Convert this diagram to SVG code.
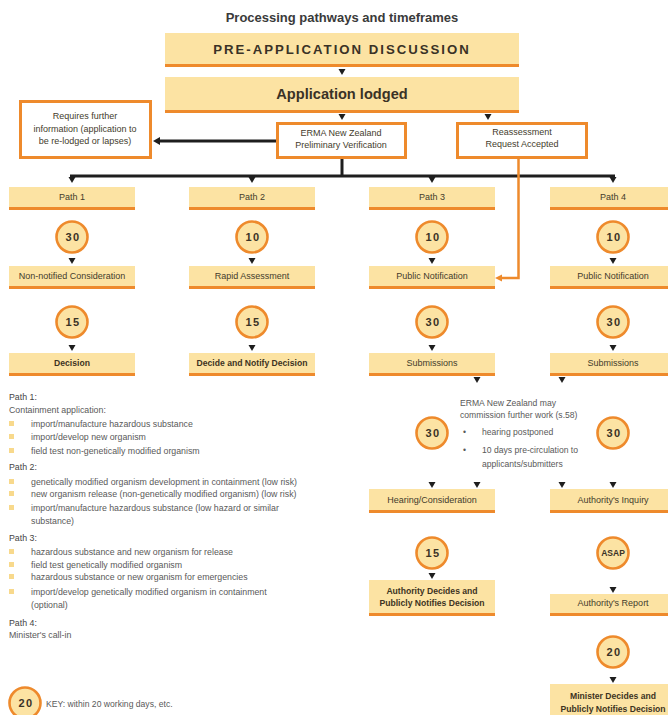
<svg xmlns="http://www.w3.org/2000/svg" xmlns:xlink="http://www.w3.org/1999/xlink" width="668" height="715" viewBox="0 0 668 715">
  <defs>
    <style>
      .box { fill: #FCE3A3; }
      .bar { fill: #EE8A2C; }
      .obox { fill: #FFFFFF; stroke: #EE8A2C; stroke-width: 3; }
      .circ { fill: #FCE3A3; stroke: #EE8A2C; stroke-width: 2.6; }
      .t { font-family: "Liberation Sans", Arial, sans-serif; font-size: 9px; fill: #443c2c; text-anchor: middle; }
      .tb { font-family: "Liberation Sans", Arial, sans-serif; font-size: 8.6px; font-weight: bold; fill: #3d3322; text-anchor: middle; }
      .num { font-family: "Liberation Sans", Arial, sans-serif; font-size: 11px; font-weight: bold; fill: #3a3226; text-anchor: middle; letter-spacing: 1.5px; }
      .asap { font-family: "Liberation Sans", Arial, sans-serif; font-size: 8.5px; font-weight: bold; fill: #3a3226; text-anchor: middle; letter-spacing: 0; }
      .list { font-family: "Liberation Sans", Arial, sans-serif; font-size: 8.8px; fill: #595959; }
      .head { font-family: "Liberation Sans", Arial, sans-serif; font-size: 8.8px; fill: #454545; }
      .sq { fill: #F8D98C; }
      .blk { stroke: #1e1e1e; stroke-width: 3; fill: none; }
      .org { stroke: #EE8A2C; stroke-width: 2.5; fill: none; }
      .tri { fill: #1e1e1e; }
    </style>
    <path id="tri" d="M-3.5,0 L3.5,0 L0,6 Z"/>
  </defs>

  <rect width="668" height="715" fill="#FFFFFF"/>

  <text x="342" y="22" font-family="Liberation Sans, Arial, sans-serif" font-size="13" font-weight="bold" fill="#3a3a3a" text-anchor="middle">Processing pathways and timeframes</text>

  <!-- connectors -->
  <g id="connectors">
    <use xlink:href="#tri" x="342" y="69" class="tri"/>
    <use xlink:href="#tri" x="342" y="114" class="tri"/>
    <use xlink:href="#tri" x="488" y="114" class="tri"/>
    <!-- to Requires further information -->
    <line x1="276" y1="141" x2="160" y2="141" class="blk"/>
    <path d="M153,141 L160,137 L160,145 Z" class="tri"/>
    <!-- fan-out to the four paths -->
    <line x1="342" y1="159" x2="342" y2="176" class="blk"/>
    <line x1="70" y1="176" x2="615" y2="176" class="blk"/>
    <use xlink:href="#tri" x="72" y="177" class="tri"/>
    <use xlink:href="#tri" x="252" y="177" class="tri"/>
    <use xlink:href="#tri" x="432" y="177" class="tri"/>
    <use xlink:href="#tri" x="613" y="177" class="tri"/>
    <!-- reassessment into public notification -->
    <polyline points="518.5,159 518.5,278 502,278" class="org"/>
    <path d="M495,278 L502,274.5 L502,281.5 Z" fill="#EE8A2C"/>
    <!-- circle to box arrows -->
    <use xlink:href="#tri" x="72" y="258" class="tri"/>
    <use xlink:href="#tri" x="252" y="258" class="tri"/>
    <use xlink:href="#tri" x="432" y="258" class="tri"/>
    <use xlink:href="#tri" x="613" y="258" class="tri"/>
    <use xlink:href="#tri" x="72" y="345" class="tri"/>
    <use xlink:href="#tri" x="252" y="345" class="tri"/>
    <use xlink:href="#tri" x="432" y="345" class="tri"/>
    <use xlink:href="#tri" x="613" y="345" class="tri"/>
    <use xlink:href="#tri" x="477" y="377" class="tri"/>
    <use xlink:href="#tri" x="562" y="377" class="tri"/>
    <use xlink:href="#tri" x="432" y="482" class="tri"/>
    <use xlink:href="#tri" x="477" y="482" class="tri"/>
    <use xlink:href="#tri" x="562" y="482" class="tri"/>
    <use xlink:href="#tri" x="613" y="482" class="tri"/>
    <use xlink:href="#tri" x="432" y="573" class="tri"/>
    <use xlink:href="#tri" x="613" y="587" class="tri"/>
    <use xlink:href="#tri" x="613" y="677" class="tri"/>
  </g>

  <!-- top of the flow -->
  <g id="pre-application">
    <rect x="165" y="33" width="354" height="34" class="box"/>
    <rect x="165" y="64" width="354" height="3" class="bar"/>
    <text x="342" y="54" font-family="Liberation Sans, Arial, sans-serif" font-size="13.2" font-weight="bold" fill="#3a3226" text-anchor="middle" letter-spacing="2">PRE-APPLICATION DISCUSSION</text>
  </g>
  <g id="application-lodged">
    <rect x="165" y="77" width="354" height="36" class="box"/>
    <rect x="165" y="110" width="354" height="3" class="bar"/>
    <text x="342" y="99" font-family="Liberation Sans, Arial, sans-serif" font-size="14.6" font-weight="bold" fill="#3a3226" text-anchor="middle">Application lodged</text>
  </g>
  <g id="requires-info">
    <rect x="20.5" y="101.5" width="130" height="56" class="obox"/>
    <text class="t" x="85" y="119">Requires further</text>
    <text class="t" x="85" y="132">information (application to</text>
    <text class="t" x="85" y="144">be re-lodged or lapses)</text>
  </g>
  <g id="erma-verification">
    <rect x="277.5" y="123.5" width="128" height="34" class="obox"/>
    <text class="t" x="341" y="136">ERMA New Zealand</text>
    <text class="t" x="341" y="148">Preliminary Verification</text>
  </g>
  <g id="reassessment">
    <rect x="457.5" y="123.5" width="129" height="34" class="obox"/>
    <text class="t" x="522" y="135">Reassessment</text>
    <text class="t" x="522" y="147">Request Accepted</text>
  </g>

  <!-- path headers -->
  <g id="path1">
    <rect x="9" y="187" width="126" height="23" class="box"/>
    <rect x="9" y="207" width="126" height="3" class="bar"/>
    <text class="t" x="72" y="200">Path 1</text>
  </g>
  <g id="path2">
    <rect x="189" y="187" width="126" height="23" class="box"/>
    <rect x="189" y="207" width="126" height="3" class="bar"/>
    <text class="t" x="252" y="200">Path 2</text>
  </g>
  <g id="path3">
    <rect x="369" y="187" width="126" height="23" class="box"/>
    <rect x="369" y="207" width="126" height="3" class="bar"/>
    <text class="t" x="432" y="200">Path 3</text>
  </g>
  <g id="path4">
    <rect x="550" y="187" width="126" height="23" class="box"/>
    <rect x="550" y="207" width="126" height="3" class="bar"/>
    <text class="t" x="613" y="200">Path 4</text>
  </g>

  <!-- first timeframes -->
  <g id="c1a"><circle cx="72" cy="237" r="15.5" class="circ"/><text class="num" x="73" y="241">30</text></g>
  <g id="c2a"><circle cx="252" cy="237" r="15.5" class="circ"/><text class="num" x="253" y="241">10</text></g>
  <g id="c3a"><circle cx="432" cy="237" r="15.5" class="circ"/><text class="num" x="433" y="241">10</text></g>
  <g id="c4a"><circle cx="613" cy="237" r="15.5" class="circ"/><text class="num" x="614" y="241">10</text></g>

  <g id="non-notified">
    <rect x="9" y="266" width="126" height="23" class="box"/>
    <rect x="9" y="286" width="126" height="3" class="bar"/>
    <text class="t" x="72" y="279">Non-notified Consideration</text>
  </g>
  <g id="rapid-assessment">
    <rect x="189" y="266" width="126" height="23" class="box"/>
    <rect x="189" y="286" width="126" height="3" class="bar"/>
    <text class="t" x="252" y="279">Rapid Assessment</text>
  </g>
  <g id="public-notification-3">
    <rect x="369" y="266" width="126" height="23" class="box"/>
    <rect x="369" y="286" width="126" height="3" class="bar"/>
    <text class="t" x="432" y="279">Public Notification</text>
  </g>
  <g id="public-notification-4">
    <rect x="550" y="266" width="126" height="23" class="box"/>
    <rect x="550" y="286" width="126" height="3" class="bar"/>
    <text class="t" x="613" y="279">Public Notification</text>
  </g>

  <!-- second timeframes -->
  <g id="c1b"><circle cx="72" cy="322" r="15.5" class="circ"/><text class="num" x="73" y="326">15</text></g>
  <g id="c2b"><circle cx="252" cy="322" r="15.5" class="circ"/><text class="num" x="253" y="326">15</text></g>
  <g id="c3b"><circle cx="432" cy="322" r="15.5" class="circ"/><text class="num" x="433" y="326">30</text></g>
  <g id="c4b"><circle cx="613" cy="322" r="15.5" class="circ"/><text class="num" x="614" y="326">30</text></g>

  <g id="decision">
    <rect x="9" y="353" width="126" height="23" class="box"/>
    <rect x="9" y="373" width="126" height="3" class="bar"/>
    <text class="tb" x="72" y="366">Decision</text>
  </g>
  <g id="decide-notify">
    <rect x="189" y="353" width="126" height="23" class="box"/>
    <rect x="189" y="373" width="126" height="3" class="bar"/>
    <text class="tb" x="252" y="366">Decide and Notify Decision</text>
  </g>
  <g id="submissions-3">
    <rect x="369" y="353" width="126" height="23" class="box"/>
    <rect x="369" y="373" width="126" height="3" class="bar"/>
    <text class="t" x="432" y="366">Submissions</text>
  </g>
  <g id="submissions-4">
    <rect x="550" y="353" width="126" height="23" class="box"/>
    <rect x="550" y="373" width="126" height="3" class="bar"/>
    <text class="t" x="613" y="366">Submissions</text>
  </g>

  <!-- further work note -->
  <g id="further-work-note" font-family="Liberation Sans, Arial, sans-serif" font-size="8.6" fill="#595959">
    <text x="460" y="406">ERMA New Zealand may</text>
    <text x="460" y="418">commission further work (s.58)</text>
    <text x="463" y="435">•</text>
    <text x="482" y="435">hearing postponed</text>
    <text x="463" y="453">•</text>
    <text x="482" y="453">10 days pre-circulation to</text>
    <text x="482" y="467">applicants/submitters</text>
  </g>

  <g id="c3c"><circle cx="432" cy="433" r="15.5" class="circ"/><text class="num" x="433" y="437">30</text></g>
  <g id="c4c"><circle cx="613" cy="433" r="15.5" class="circ"/><text class="num" x="614" y="437">30</text></g>

  <g id="hearing">
    <rect x="369" y="489" width="126" height="24" class="box"/>
    <rect x="369" y="510" width="126" height="3" class="bar"/>
    <text class="t" x="432" y="503">Hearing/Consideration</text>
  </g>
  <g id="inquiry">
    <rect x="550" y="489" width="126" height="24" class="box"/>
    <rect x="550" y="510" width="126" height="3" class="bar"/>
    <text class="t" x="613" y="503">Authority's Inquiry</text>
  </g>

  <g id="c3d"><circle cx="432" cy="553" r="15.5" class="circ"/><text class="num" x="433" y="557">15</text></g>
  <g id="c4d"><circle cx="613" cy="553" r="15.5" class="circ"/><text class="asap" x="613" y="556">ASAP</text></g>

  <g id="authority-decides">
    <rect x="369" y="580" width="126" height="36" class="box"/>
    <rect x="369" y="613" width="126" height="3" class="bar"/>
    <text class="tb" x="432" y="594">Authority Decides and</text>
    <text class="tb" x="432" y="606">Publicly Notifies Decision</text>
  </g>
  <g id="authority-report">
    <rect x="550" y="594" width="126" height="22" class="box"/>
    <rect x="550" y="613" width="126" height="3" class="bar"/>
    <text class="t" x="613" y="606">Authority's Report</text>
  </g>

  <g id="c4e"><circle cx="613" cy="652" r="15.5" class="circ"/><text class="num" x="614" y="656">20</text></g>

  <g id="minister-decides">
    <rect x="550" y="684" width="126" height="36" class="box"/>
    <text class="tb" x="613" y="699">Minister Decides and</text>
    <text class="tb" x="613" y="712">Publicly Notifies Decision</text>
  </g>

  <!-- path descriptions -->
  <g id="path-list">
    <text class="head" x="9" y="400">Path 1:</text>
    <text class="list" x="9" y="413">Containment application:</text>
    <rect class="sq" x="9" y="421" width="5" height="5"/>
    <text class="list" x="31" y="427">import/manufacture hazardous substance</text>
    <rect class="sq" x="9" y="434" width="5" height="5"/>
    <text class="list" x="31" y="440">import/develop new organism</text>
    <rect class="sq" x="9" y="448" width="5" height="5"/>
    <text class="list" x="31" y="454">field test non-genetically modified organism</text>

    <text class="head" x="9" y="470">Path 2:</text>
    <rect class="sq" x="9" y="479" width="5" height="5"/>
    <text class="list" x="31" y="485">genetically modified organism development in containment (low risk)</text>
    <rect class="sq" x="9" y="491" width="5" height="5"/>
    <text class="list" x="31" y="497">new organism release (non-genetically modified organism) (low risk)</text>
    <rect class="sq" x="9" y="505" width="5" height="5"/>
    <text class="list" x="31" y="511">import/manufacture hazardous substance (low hazard or similar</text>
    <text class="list" x="31" y="524">substance)</text>

    <text class="head" x="9" y="541">Path 3:</text>
    <rect class="sq" x="9" y="549" width="5" height="5"/>
    <text class="list" x="31" y="555">hazardous substance and new organism for release</text>
    <rect class="sq" x="9" y="562" width="5" height="5"/>
    <text class="list" x="31" y="568">field test genetically modified organism</text>
    <rect class="sq" x="9" y="574" width="5" height="5"/>
    <text class="list" x="31" y="580">hazardous substance or new organism for emergencies</text>
    <rect class="sq" x="9" y="589" width="5" height="5"/>
    <text class="list" x="31" y="595">import/develop genetically modified organism in containment</text>
    <text class="list" x="31" y="608">(optional)</text>

    <text class="head" x="9" y="626">Path 4:</text>
    <text class="list" x="9" y="638">Minister's call-in</text>
  </g>

  <!-- key -->
  <g id="key">
    <circle cx="25" cy="703" r="15.5" class="circ"/>
    <text class="num" x="26" y="707">20</text>
    <text x="46" y="707" font-family="Liberation Sans, Arial, sans-serif" font-size="8.6" fill="#595959">KEY: within 20 working days, etc.</text>
  </g>
</svg>
